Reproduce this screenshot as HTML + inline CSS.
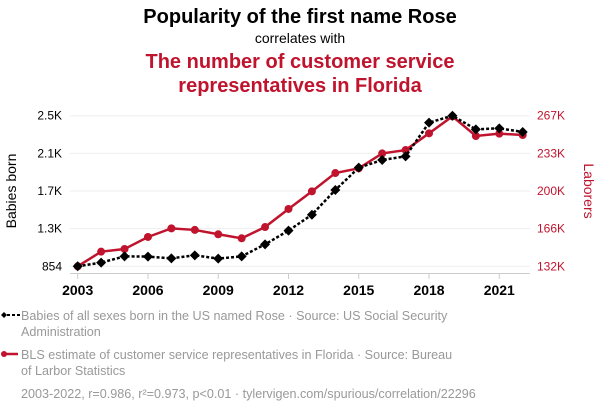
<!DOCTYPE html>
<html><head><meta charset="utf-8"><style>
body{margin:0;background:#fff;width:600px;height:414px;overflow:hidden;font-family:"Liberation Sans",sans-serif}
svg{display:block}
</style></head><body>
<svg id="chart" width="600" height="414" viewBox="0 0 600 414" xmlns="http://www.w3.org/2000/svg" font-family="Liberation Sans, sans-serif">
<text x="300" y="23" text-anchor="middle" font-size="20" font-weight="bold" fill="#000">Popularity of the first name Rose</text>
<text x="300" y="43" text-anchor="middle" font-size="14" fill="#000">correlates with</text>
<text x="300" y="68" text-anchor="middle" font-size="20" font-weight="bold" fill="#c0142e">The number of customer service</text>
<text x="300" y="92" text-anchor="middle" font-size="20" font-weight="bold" fill="#c0142e">representatives in Florida</text>
<g id="grid"></g><g id="axes"></g><g id="series"></g>
<text transform="translate(16,191) rotate(-90)" text-anchor="middle" font-size="14" fill="#000">Babies born</text>
<text transform="translate(584,191) rotate(90)" text-anchor="middle" font-size="14" fill="#c0142e">Laborers</text>
<g>
<line x1="2" y1="315" x2="20" y2="315" stroke="#000" stroke-width="2" stroke-dasharray="3,2"/>
<path d="M4 312 L7 315 L4 318 L1 315Z" fill="#000"/>
<text x="21" y="320" font-size="12.6" fill="#999">Babies of all sexes born in the US named Rose · Source: US Social Security</text>
<text x="21" y="336" font-size="12.6" fill="#999">Administration</text></g>
<g>
<line x1="2" y1="354" x2="18" y2="354" stroke="#c0142e" stroke-width="2.5"/>
<circle cx="4" cy="354" r="3" fill="#c0142e"/>
<text x="21" y="359" font-size="12.6" fill="#999">BLS estimate of customer service representatives in Florida · Source: Bureau</text>
<text x="21" y="375" font-size="12.6" fill="#999">of Larbor Statistics</text></g>
<text x="21" y="398" font-size="12.6" fill="#999">2003-2022, r=0.986, r²=0.973, p&lt;0.01 · tylervigen.com/spurious/correlation/22296</text>
</svg>
<script>
const years=[2003,2004,2005,2006,2007,2008,2009,2010,2011,2012,2013,2014,2015,2016,2017,2018,2019,2020,2021,2022];
const babies=[854,894,963,960,941,974,938,963,1094,1244,1418,1688,1932,2016,2056,2424,2500,2351,2362,2322];
const laborers=[132,145.1,147.5,158.3,166.0,164.6,160.7,157.1,167.2,183.4,199.2,215.6,219.8,233.2,236.2,251.2,266.4,248.8,250.9,249.7];
const leftTicks=[854,1265.5,1677,2088.5,2500];
const leftLabels=["854","1.3K","1.7K","2.1K","2.5K"];
const rightTicks=[132,165.75,199.5,233.25,267];
const rightLabels=["132K","166K","200K","233K","267K"];
const xTicks=[2003,2006,2009,2012,2015,2018,2021];
const NS="http://www.w3.org/2000/svg";
const x=v=>77.7+(v-2003)*(522.7-77.7)/19;
const yL=v=>266.3-(v-854)/(2500-854)*150.6;
const yR=v=>266.3-(v-132)/(267-132)*150.6;
function mk(tag,attrs,parent){const e=document.createElementNS(NS,tag);for(const k in attrs)e.setAttribute(k,attrs[k]);parent.appendChild(e);return e;}
const grid=document.getElementById('grid'),axes=document.getElementById('axes'),ser=document.getElementById('series');
leftTicks.forEach((t,i)=>{
 const g=mk('line',{x1:70,x2:530,y1:yL(t),y2:yL(t),stroke:'#eee','stroke-width':1},grid);
 
 
 const tl=mk('text',{x:62,y:yL(t)+4,'text-anchor':'end','font-size':12,fill:'#000'},axes);tl.textContent=leftLabels[i];
 
 
});
rightTicks.forEach((t,i)=>{
 const tl=mk('text',{x:537,y:yR(t)+4,'text-anchor':'start','font-size':12,fill:'#c0142e'},axes);tl.textContent=rightLabels[i];
 
 
});
const ax=mk('line',{x1:70,x2:530,y1:273.5,y2:273.5,stroke:'#ccc','stroke-width':1},axes);


xTicks.forEach(t=>{
 const tk=mk('line',{x1:x(t),x2:x(t),y1:273.5,y2:279,stroke:'#ccc'},axes);
 
 
 const tl=mk('text',{x:x(t),y:295,'text-anchor':'middle','font-size':14,'font-weight':'bold',fill:'#000'},axes);tl.textContent=t;
 
 
});
const rl=mk('polyline',{points:years.map((yr,i)=>x(yr)+','+yR(laborers[i])).join(' '),fill:'none',stroke:'#c0142e','stroke-width':2.5},ser);


years.forEach((yr,i)=>{const c=mk('circle',{cx:x(yr),cy:yR(laborers[i]),r:4,fill:'#c0142e'},ser);
 
 });
const bl=mk('polyline',{points:years.map((yr,i)=>x(yr)+','+yL(babies[i])).join(' '),fill:'none',stroke:'#000','stroke-width':2.5,'stroke-dasharray':'3,2'},ser);


years.forEach((yr,i)=>{const cx=x(yr),cy=yL(babies[i]);
 const p=mk('path',{d:`M${cx} ${cy-5}L${cx+5} ${cy}L${cx} ${cy+5}L${cx-5} ${cy}Z`,fill:'#000'},ser);
 
 });
</script>
</body></html>
